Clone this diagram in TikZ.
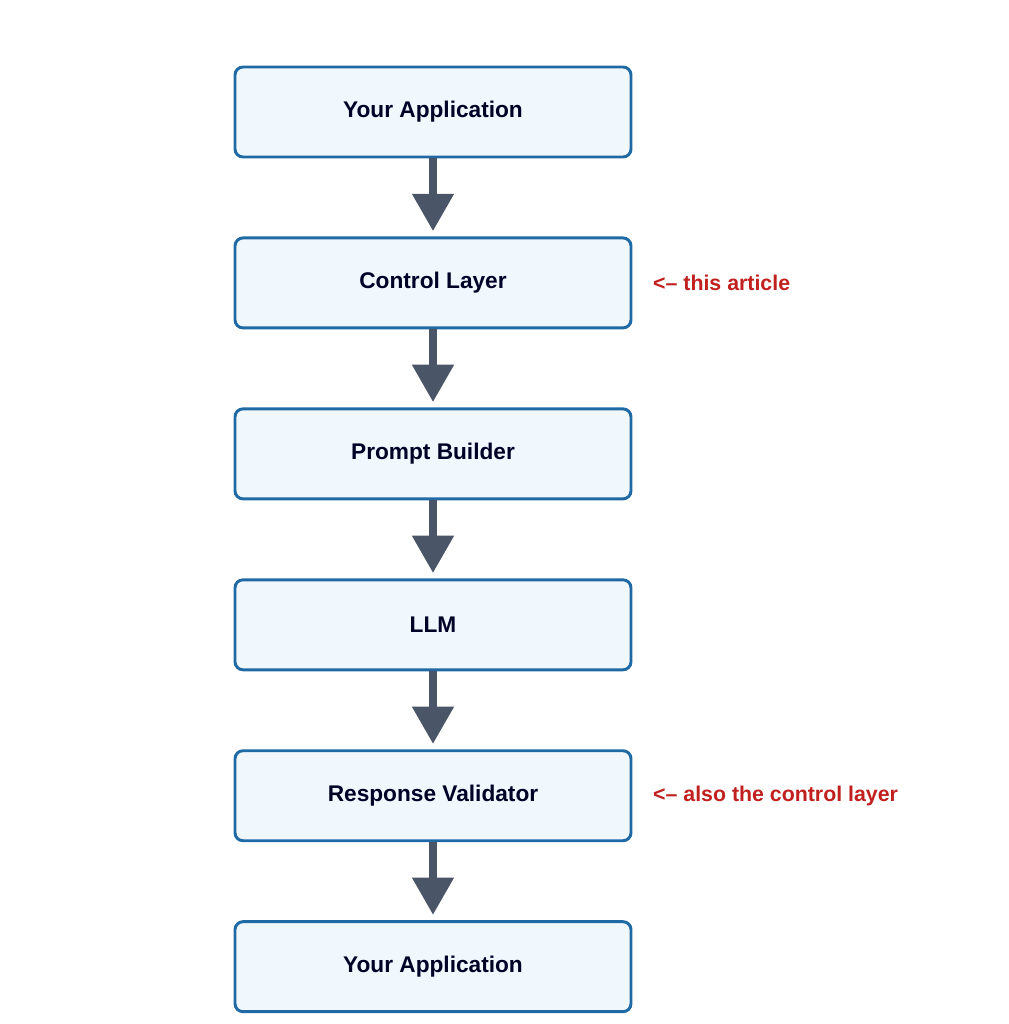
\documentclass[tikz,border=0pt]{standalone}
\usepackage{fontspec}
\setmainfont{Liberation Sans}
\usetikzlibrary{arrows.meta,positioning}
\definecolor{boxfill}{HTML}{F0F7FD}
\definecolor{boxline}{HTML}{1F6AA5}
\definecolor{flowgray}{HTML}{4A5568}
\definecolor{notered}{HTML}{C0201E}
\begin{document}
\begin{tikzpicture}[
        x = 0.75pt, y = -0.75pt, % pixel grid, y downwards
        node distance = 58.5pt, % gap between boxes
        box/.style = {draw = boxline, fill = boxfill, line width = 2.2pt,
            rounded corners = 6pt, minimum width = 297pt, minimum height = 67.5pt,
            font = \fontsize{17}{20}\selectfont\bfseries, text = black!85!blue},
        flow/.style = {draw = flowgray, line width = 6pt,
            -{Triangle[length = 28pt, width = 30pt]}, shorten > = 4pt},
        note/.style = {font = \fontsize{16}{19}\selectfont\bfseries, text = notered, anchor = west}
        ]

    \useasboundingbox (0,0) rectangle (1009,1024);

    \node[box] (app) at (433,112) {Your Application};
    \node[box] (ctrl) [below=of app] {Control Layer};
    \node[box] (prompt) [below=of ctrl] {Prompt Builder};
    \node[box] (llm) [below=of prompt] {LLM};
    \node[box] (valid) [below=of llm] {Response Validator};
    \node[box] (back) [below=of valid] {Your Application};

    \foreach \a/\b in {app/ctrl, ctrl/prompt, prompt/llm, llm/valid, valid/back}
        \draw[flow] (\a) -- (\b);

    \node[note] (n1) at ([xshift=12pt]ctrl.east) {<-- this article};
    \node[note] (n2) at ([xshift=12pt]valid.east) {<-- also the control layer};

\end{tikzpicture}
\end{document}
